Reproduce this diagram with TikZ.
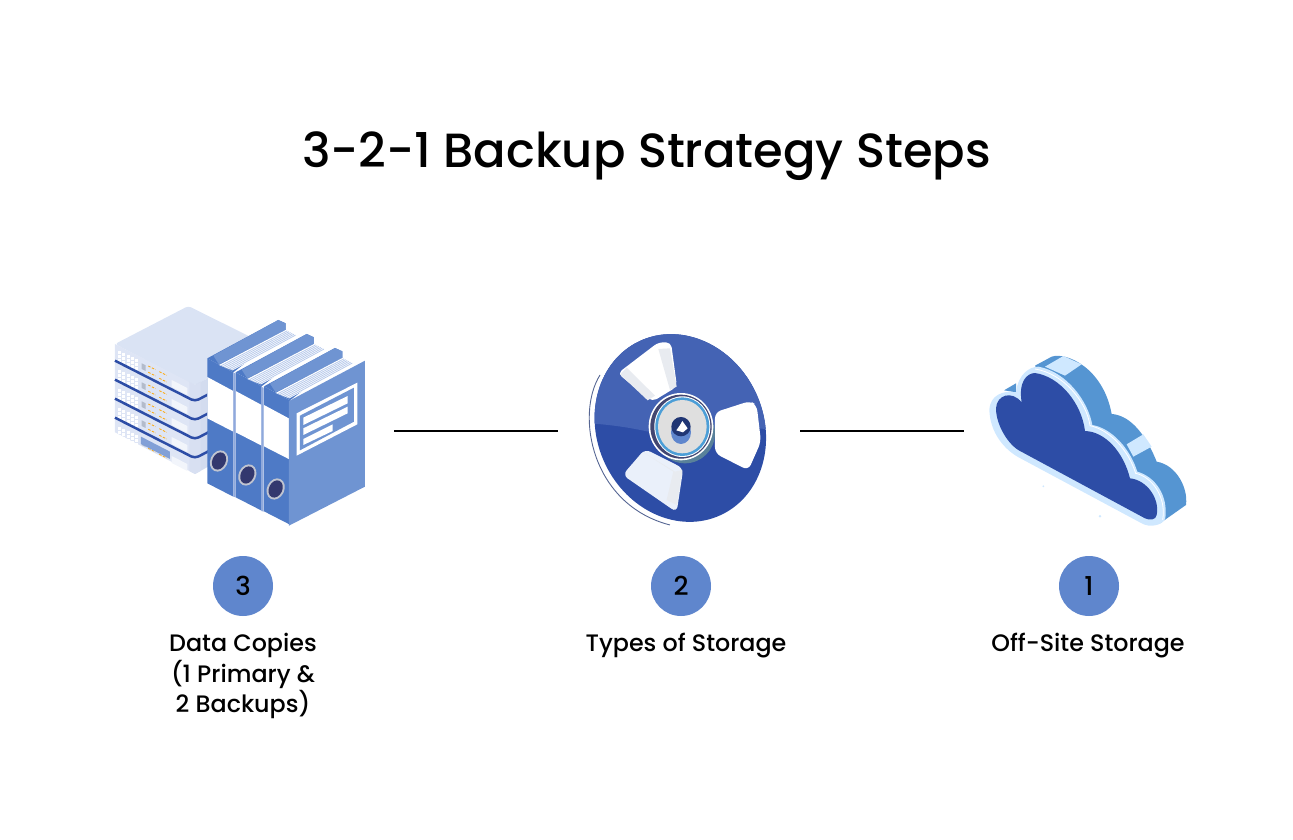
\documentclass[tikz,border=0pt]{standalone}
\usepackage{fontspec}
\setmainfont{Poppins Medium}
\newfontfamily\titlefont{Poppins Medium}
\usetikzlibrary{positioning,calc}
\definecolor{discblue}{HTML}{2D4DA6}
\definecolor{disclight}{HTML}{4463B4}
\definecolor{badgeblue}{HTML}{5F86CD}
\definecolor{spineblue}{HTML}{4E7AC6}
\definecolor{coverblue}{HTML}{6F94D2}
\definecolor{gapblue}{HTML}{8FA9DC}
\definecolor{pagestripe}{HTML}{B9CBEC}
\definecolor{ringdark}{HTML}{33386E}
\definecolor{ringgrey}{HTML}{C0C4D0}
\definecolor{servertop}{HTML}{DAE3F4}
\definecolor{serverleft}{HTML}{DEE5F5}
\definecolor{serverright}{HTML}{D3DCEF}
\definecolor{hatchgrey}{HTML}{E8EBF0}
\definecolor{windowpale}{HTML}{EAF0FA}
\definecolor{cloudrim}{HTML}{CFE8FF}
\definecolor{cloudside}{HTML}{5595D2}
\tikzset{
    badge/.style={circle,fill=badgeblue,minimum size=60pt,inner sep=0pt,font=\fontsize{26}{30}\selectfont},
    steplabel/.style={align=center,font=\fontsize{23.8}{30.5}\selectfont},
    link/.style={line width=1.5pt,black},
    zoomed/.style={x=0.3333pt,y=-0.3333pt}
}
\begin{document}
\begin{tikzpicture}[x=1pt,y=-1pt]
    \useasboundingbox (0,0) rectangle (1293,840);

    % Title
    \node (title) at (646.5,156) {\titlefont\fontsize{48}{56}\selectfont 3-2-1 Backup Strategy Steps};

    % Server stack
    \begin{scope}[shift={(100,295)},zoomed]
        \fill[servertop,rounded corners=3pt] (45,147) -- (265,33) -- (460,130) -- (322,250) -- (285,272) -- cycle;
        \fill[serverleft] (45,147) -- (285,270) -- (285,537) -- (45,412) -- cycle;
        \fill[serverright] (285,270) -- (330,246) -- (330,512) -- (285,537) -- cycle;
        \fill[serverright!50!serverleft] (268,261) -- (285,270) -- (302,261) -- (302,528) -- (285,537) -- (268,528) -- cycle;
        \foreach \dy in {0,57,114,171,228}{
            \foreach \j in {0,...,4}{
                \foreach \k in {0,1,2}{
                    \fill[white] ($(54,167)+(\j*13,\j*6.5+\k*12+\dy)$) rectangle +(9,9);
                }
            }
            \fill[serverright!85!black] (125,205+\dy) -- (137,211+\dy) -- (137,228+\dy) -- (125,222+\dy) -- cycle;
            \foreach \ox/\oy in {145/213,145/232,178/230,178/250}{
                \draw[orange!70!yellow,line width=0.8pt,dash pattern=on 2.5pt off 1.5pt] (\ox,\oy+\dy) -- ++(22,11);
            }
            \fill[white!60!serverleft] (215,255+\dy) -- (262,279+\dy) -- (262,300+\dy) -- (215,276+\dy) -- cycle;
        }
        \fill[badgeblue!70!serverright] (123,425) -- (210,470) -- (210,492) -- (123,447) -- cycle;
        % Bands
        \foreach \dy in {0,57,114,171}{
            \draw[discblue,line width=2.5pt,rounded corners=4pt] (45,197+\dy) -- (285,319+\dy) -- (325,298+\dy);
        }
    \end{scope}

    % Binders
    \begin{scope}[shift={(100,295)},zoomed]
        \foreach \ox/\oy in {0/0,85/42,170/84}{
            \begin{scope}[shift={(\ox,\oy)}]
                \fill[spineblue] (322,190) -- (400,232) -- (400,605) -- (322,565) -- cycle;
                \fill[white] (322,246) -- (400,288) -- (400,410) -- (322,370) -- cycle;
                \fill[spineblue] (322,190) -- (535,75) -- (557,85) -- (557,110) -- (400,232) -- cycle;
                \fill[coverblue] (340,182) -- (535,75) -- (557,85) -- (557,105) -- (357,208) -- cycle;
                \fill[white] (357,210) -- (557,105) -- (590,122) -- (398,226) -- cycle;
                \foreach \s in {0.15,0.3,0.45,0.6,0.75,0.9}{
                    \draw[pagestripe,line width=0.8pt] ($(357,210)!\s!(398,226)$) -- ($(557,105)!\s!(590,122)$);
                }
                \fill[ringgrey,rotate around={-25:(357,498)}] (357,498) ellipse (26 and 33);
                \fill[ringdark,rotate around={-25:(357,498)}] (357,498) ellipse (20 and 27);
            \end{scope}
        }
        \fill[gapblue] (400,232) -- (407,236) -- (407,607) -- (400,605) -- cycle;
        \fill[gapblue] (484,275) -- (491,279) -- (491,650) -- (484,648) -- cycle;
        % Front cover
        \fill[coverblue] (567,318) -- (795,197) -- (795,575) -- (567,692) -- cycle;
        \fill[white] (590,355) -- (772,263) -- (772,388) -- (590,482) -- cycle;
        \fill[coverblue] (600,362) -- (762,278) -- (762,380) -- (600,466) -- cycle;
        \fill[white] (610,368) -- (743,303) -- (743,325) -- (610,390) -- cycle;
        \fill[white] (610,400) -- (743,335) -- (743,355) -- (610,420) -- cycle;
        \fill[white] (610,432) -- (698,388) -- (698,408) -- (610,450) -- cycle;
    \end{scope}

    % Tape reel
    \begin{scope}[shift={(575,325)},zoomed]
        \draw[discblue!50!gray,line width=0.9pt] (75,150) .. controls (0,270) and (50,540) .. (285,600);
        \begin{scope}
            \clip[rotate around={-65:(316,309)}] (316,309) ellipse (288 and 250);
            \fill[discblue] (0,0) rectangle (620,620);
            \fill[disclight] (0,0) -- (620,0) -- (620,322) .. controls (500,285) and (350,345) .. (220,320) .. controls (150,305) and (100,298) .. (0,292) -- cycle;
        \end{scope}
        % Windows
        \fill[white,rounded corners=5pt] (128,145) -- (250,52) -- (288,52) -- (306,185) -- (232,230) -- cycle;
        \fill[hatchgrey] (250,72) -- (285,70) -- (305,185) -- (285,195) -- cycle;
        \fill[hatchgrey] (155,128) -- (240,212) -- (218,226) -- (135,148) -- cycle;
        \fill[white,rounded corners=6pt] (420,262) -- (525,228) -- (545,240) -- (558,350) -- (520,436) -- (420,385) -- cycle;
        \fill[windowpale,rounded corners=6pt] (143,450) -- (210,372) -- (325,430) -- (305,562) -- cycle;
        \fill[hatchgrey] (205,382) -- (300,440) -- (322,435) -- (305,540) -- (275,525) -- (295,440) -- cycle;
        % Hub
        \fill[discblue!70!cyan!40!gray] (330,325) circle (90);
        \fill[white] (318,305) ellipse (97 and 101);
        \fill[ringdark!80!gray] (318,305) ellipse (92 and 96);
        \fill[white] (322,305) ellipse (84 and 91);
        \fill[badgeblue!80!cyan] (322,305) ellipse (81 and 88);
        \fill[gray!25] (322,305) ellipse (73 and 80);
        \fill[badgeblue] (318,322) ellipse (30 and 35);
        \fill[discblue!70!black] (318,305) circle (29);
        \fill[white] (322,288) -- (338,310) -- (324,322) -- (304,316) -- (314,302) -- cycle;
    \end{scope}

    % Cloud
    \begin{scope}[shift={(980,345)},zoomed]
        \fill[cloudside] (165,62) -- (215,35) .. controls (260,20) and (370,70) .. (395,207)
            .. controls (440,210) and (490,250) .. (530,350)
            .. controls (590,360) and (625,430) .. (618,480)
            -- (540,535) -- (300,300) -- cycle;
        \fill[cloudrim] (195,65) -- (250,33) -- (305,58) -- (255,92) -- cycle;
        \fill[cloudrim] (440,298) -- (490,268) -- (515,305) -- (460,335) -- cycle;
        \fill[cloudside] (72,136) -- (108,115) -- (108,142) -- cycle;
        \fill[cloudrim] (28,195) .. controls (30,150) and (70,135) .. (108,142)
            .. controls (115,85) and (150,65) .. (175,65)
            .. controls (260,80) and (325,170) .. (337,240)
            .. controls (395,250) and (450,310) .. (472,380)
            .. controls (525,395) and (565,450) .. (556,520)
            .. controls (550,540) and (510,550) .. (485,535)
            -- (125,342) .. controls (70,315) and (30,260) .. (28,195) -- cycle;
        \draw[white,line width=0.8pt] (165,72) .. controls (250,85) and (320,170) .. (330,242)
            .. controls (390,255) and (445,315) .. (467,385)
            .. controls (515,395) and (560,455) .. (548,525);
        \fill[discblue] (48,190) .. controls (50,150) and (95,135) .. (125,172)
            .. controls (115,110) and (140,85) .. (165,84)
            .. controls (240,95) and (305,175) .. (315,258)
            .. controls (375,260) and (430,320) .. (450,400)
            .. controls (500,405) and (540,460) .. (530,510)
            .. controls (528,525) and (510,527) .. (495,520)
            -- (120,318) .. controls (85,300) and (48,240) .. (48,190) -- cycle;
        \fill[cloudrim] (190,424) circle (3);
        \fill[cloudrim] (360,514) circle (4);
    \end{scope}

    % Links
    \coordinate (linkAstart) at (394,431);
    \coordinate (linkAend) at (558,431);
    \coordinate (linkBstart) at (800,431);
    \coordinate (linkBend) at (964,431);
    \draw[link] (linkAstart) -- (linkAend);
    \draw[link] (linkBstart) -- (linkBend);

    % Badges
    \node[badge] (three) at (243,586) {3};
    \node[badge] (two) at (681,586) {2};
    \node[badge] (one) at (1089,586) {1};

    % Labels
    \node[steplabel,anchor=north] (copies) at (243,630) {Data Copies\\(1 Primary \&\\2 Backups)};
    \node[steplabel,anchor=north] (types) at (686,630) {Types of Storage};
    \node[steplabel,anchor=north] (offsite) at (1088,630) {Off-Site Storage};
\end{tikzpicture}
\end{document}
